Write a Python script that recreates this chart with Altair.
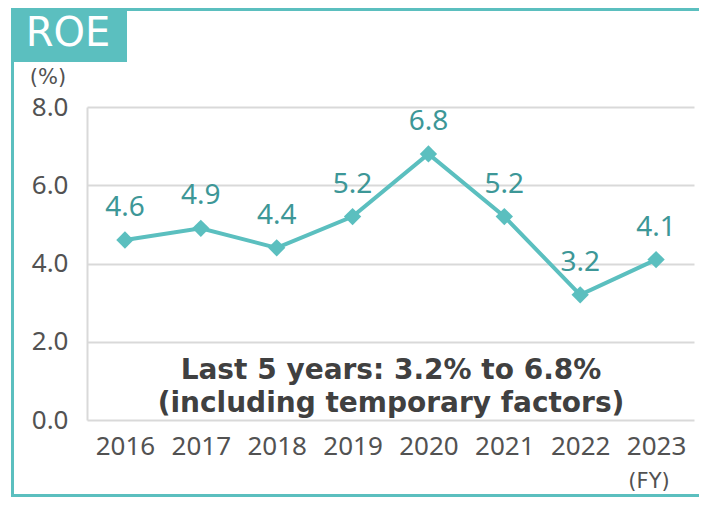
import altair as alt
import pandas as pd

years = ["2016", "2017", "2018", "2019", "2020", "2021", "2022", "2023"]
roe = [4.6, 4.9, 4.4, 5.2, 6.8, 5.2, 3.2, 4.1]
y_ticks = [0, 2, 4, 6, 8]
title_text = "ROE"
unit_text = "(%)"
fy_text = "(FY)"
note_lines = ["Last 5 years: 3.2% to 6.8%", "(including temporary factors)"]

TEAL = "#5bbfbf"
TEAL_DARK = "#3d9797"
GRAY_TXT = "#525252"
GRID = "#d9d9d9"
FONT = "Noto Sans"
WIDE = "DejaVu Sans"

df = pd.DataFrame({"year": years, "roe": roe})
one = pd.DataFrame({"k": [0]})

x_enc = alt.X("year:O", title=None,
              scale=alt.Scale(type="point", padding=0.5),
              axis=alt.Axis(labelAngle=0, ticks=False, domain=False, grid=False,
                            labelPadding=13, labelFontSize=26, labelColor=GRAY_TXT,
                            labelFont=FONT))
y_enc = alt.Y("roe:Q", title=None,
              scale=alt.Scale(domain=[0, 8], nice=False),
              axis=alt.Axis(values=y_ticks, format=".1f", ticks=False,
                            domain=True, domainColor=GRID, domainWidth=2,
                            grid=True, gridColor=GRID, gridWidth=2,
                            labelPadding=19, labelFontSize=26, labelColor=GRAY_TXT,
                            labelFont=FONT))

frame = alt.Chart(one).mark_rect(fill=None, stroke=TEAL, strokeWidth=3).encode(
    x=alt.value(-74.5), x2=alt.value(720), y=alt.value(-97.5), y2=alt.value(388.5))
title_box = alt.Chart(one).mark_rect(fill=TEAL).encode(
    x=alt.value(-76), x2=alt.value(40), y=alt.value(-99), y2=alt.value(-45))
title_txt = alt.Chart(one).mark_text(
    text=title_text, font=WIDE, fontSize=40, color="white",
    align="center", baseline="alphabetic").encode(
    x=alt.value(-19), y=alt.value(-61))
unit = alt.Chart(one).mark_text(
    text=unit_text, font=WIDE, fontSize=21, color=GRAY_TXT,
    align="center", baseline="alphabetic").encode(
    x=alt.value(-39), y=alt.value(-23))
fy = alt.Chart(one).mark_text(
    text=fy_text, font=WIDE, fontSize=21, color=GRAY_TXT,
    align="center", baseline="alphabetic").encode(
    x=alt.value(562), y=alt.value(381))

line = alt.Chart(df).mark_line(color=TEAL, strokeWidth=4).encode(x=x_enc, y=y_enc)
pts = alt.Chart(df).mark_point(shape="diamond", filled=True, fill=TEAL,
                               opacity=1, size=300, strokeWidth=0).encode(x=x_enc, y=y_enc)
labels = alt.Chart(df).mark_text(font=FONT, fontSize=28, color=TEAL_DARK,
                                 baseline="alphabetic", dy=-24).encode(
    x=x_enc, y=y_enc, text=alt.Text("roe:Q", format=".1f"))

note1 = alt.Chart(one).mark_text(
    text=note_lines[0], font=WIDE, fontSize=28, fontWeight="bold", color="#404040",
    align="center", baseline="alphabetic").encode(x=alt.value(304), y=alt.value(272))
note2 = alt.Chart(one).mark_text(
    text=note_lines[1], font=WIDE, fontSize=28, fontWeight="bold", color="#404040",
    align="center", baseline="alphabetic").encode(x=alt.value(304), y=alt.value(305))

chart = alt.layer(frame, title_box, title_txt, unit, fy, line, pts, labels, note1, note2).properties(
    width=607, height=313,
    autosize="none",
    padding={"left": 79, "top": 99, "right": 5, "bottom": 77},
).configure_view(stroke=None)

chart.save("out.html", embed_options={"renderer": "svg", "actions": False})
